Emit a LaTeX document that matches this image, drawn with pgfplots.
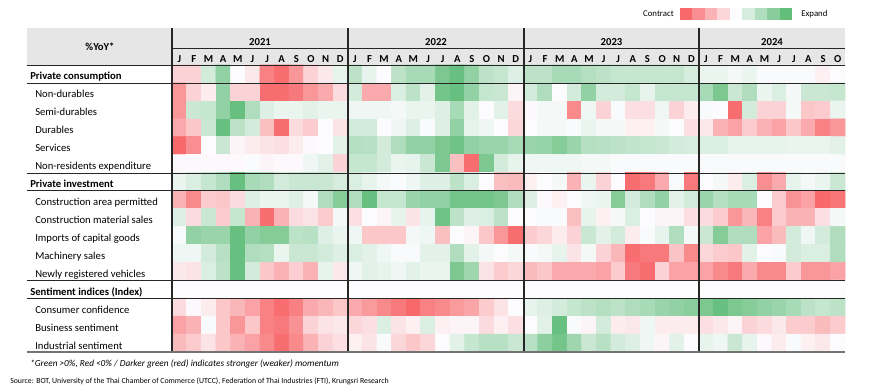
\documentclass[border=0pt]{standalone}
\usepackage{pgfplots}
\pgfplotsset{compat=1.18}
\usepackage{fontspec}
\setmainfont{Carlito}
\definecolor{hdr}{RGB}{231,230,230}
\definecolor{c1}{RGB}{248,105,107}
\definecolor{c2}{RGB}{249,142,144}
\definecolor{c3}{RGB}{250,178,181}
\definecolor{c4}{RGB}{251,215,218}
\definecolor{c5}{RGB}{252,252,255}
\definecolor{c6}{RGB}{214,237,222}
\definecolor{c7}{RGB}{175,221,189}
\definecolor{c8}{RGB}{137,205,156}
\definecolor{c9}{RGB}{99,190,123}
\begin{document}
\begin{tikzpicture}
\path[use as bounding box] (-129pt,-30pt) rectangle (523.5pt,264pt);
\begin{scope}[shift={(-129pt,264pt)},x=0.75pt,y=-0.75pt]
\fill[hdr] (27,28) rectangle (845,65);
\foreach \c [count=\i from 0] in {c1,c2,c3,c4,c5,c6,c7,c8,c9}{
  \fill[\c] ({680+12.44*\i},8) rectangle ({680+12.44*(\i+1)},20);
}
\node[anchor=base east,inner sep=0,font=\fontsize{6.6}{8}\selectfont] at (674,16.5) {Contract};
\node[anchor=base west,inner sep=0,font=\fontsize{6.6}{8}\selectfont] at (801,16.5) {Expand};
\end{scope}
\begin{axis}[at={(0,0)},anchor=south west,scale only axis,width=504.75pt,height=215.25pt,
  xmin=-0.5,xmax=45.5,ymin=-0.5,ymax=15.5,y dir=reverse,hide axis,enlargelimits=false,clip=false,
  colormap={rwg}{rgb255=(248,105,107) rgb255=(252,252,255) rgb255=(99,190,123)},
  point meta min=-3.6,point meta max=3.6]
\addplot[matrix plot*,mesh/cols=46,point meta=explicit] table[header=false,row sep=\\,
  x expr={\coordindex-46*floor((\coordindex+0.5)/46)},y expr={floor((\coordindex+0.5)/46)},meta index=0] {
-1\\ -1\\ 1\\ 2.5\\ 0\\ -0.5\\ -3\\ -3.5\\ -2.5\\ -1\\ -0.5\\ 0.5\\ 1.5\\ 0.5\\ 0\\ 1.5\\ 2\\ 2\\ 3\\ 3.5\\ 2.5\\ 1.5\\ 1.3\\ 0.7\\ 1.5\\ 1.5\\ 2\\ 2\\ 1.7\\ 1.5\\ 1.3\\ 1.3\\ 1.3\\ 1.3\\ 1.3\\ 0.9\\ 0.4\\ 0.4\\ 0.2\\ 0.4\\ 0.1\\ 0.1\\ 0.1\\ 0.1\\ -0.3\\ 0\\
-2.5\\ -1\\ -0.4\\ 2.5\\ -1\\ -1\\ -3.5\\ -3.5\\ -3.2\\ -2.5\\ -2\\ -0.8\\ 1\\ -2\\ -2\\ 0.8\\ 1.5\\ 0.6\\ 3.2\\ 3.5\\ 2.5\\ 1.3\\ 1.2\\ -0.2\\ 1\\ 1.8\\ 0\\ 1\\ 2.5\\ 1\\ 1\\ 1.3\\ 0.5\\ 1.3\\ 1.3\\ 1.3\\ 2\\ 3\\ 1.2\\ 1.8\\ 0.4\\ 0.8\\ 0.2\\ 1.2\\ 1.2\\ 1.3\\
-2.5\\ 1.2\\ 1.3\\ 2.5\\ 3.5\\ 1.8\\ 0.7\\ 0.4\\ 0.4\\ 0.6\\ 0.4\\ 0.4\\ 0.3\\ 0.3\\ 0.3\\ 0.2\\ 0.4\\ 0.4\\ 0.7\\ 2\\ 0.6\\ 0\\ 0.6\\ -0.8\\ -0.1\\ 0.2\\ 0.2\\ -2.8\\ 0.3\\ -1\\ 0.1\\ -0.7\\ -0.7\\ 0.3\\ -1\\ -0.4\\ 0.1\\ 0\\ -3.5\\ 1\\ -1\\ -1\\ 0.2\\ -1.3\\ -1.2\\ 0.4\\
-2\\ -1.3\\ 1.2\\ 3.5\\ 1.5\\ 1\\ -1.5\\ -3.5\\ -0.8\\ -1.2\\ 0\\ -0.6\\ 1\\ 1\\ 0\\ 0.3\\ 0.7\\ 0.1\\ 0.7\\ 2.5\\ 0.5\\ 0.3\\ 0\\ -0.9\\ 0\\ 0.2\\ 0.2\\ 0.1\\ 0.4\\ 0.2\\ 0.2\\ -0.3\\ -0.3\\ 0.2\\ 0\\ -0.7\\ -0.5\\ -1.8\\ -2.2\\ -1.2\\ -1.8\\ -2.2\\ -1.3\\ -2\\ -3\\ -2.5\\
-3.7\\ -2.7\\ 0\\ 1.2\\ -0.2\\ -0.4\\ -0.6\\ -0.7\\ -0.4\\ -0.1\\ 0\\ 0.6\\ 1.7\\ 1.6\\ 1\\ 1.8\\ 2.5\\ 2.5\\ 3\\ 3.3\\ 2.5\\ 2.3\\ 2.3\\ 2\\ 2.3\\ 2.4\\ 2.8\\ 2.3\\ 1.7\\ 1.6\\ 1.5\\ 1.4\\ 1.3\\ 1.2\\ 1\\ 0.9\\ 0.8\\ 0.8\\ 0.5\\ 0.5\\ 0.5\\ 0.5\\ 0.4\\ 0.4\\ 0.4\\ 0.6\\
-0.1\\ -0.1\\ -0.1\\ -0.1\\ -0.1\\ 0.05\\ -0.2\\ -0.1\\ -0.1\\ 0.3\\ 0.6\\ -1\\ 1.3\\ 1.3\\ 1\\ 0.4\\ 0.5\\ 1.2\\ 3\\ -1.5\\ -3.5\\ 3\\ 1\\ 0.5\\ 0.3\\ 0.3\\ 0.3\\ 0.3\\ 0.2\\ 0.2\\ 0.1\\ 0.1\\ 0.1\\ 0.1\\ 0.1\\ 0.1\\ 0.1\\ 0.1\\ 0.1\\ 0.1\\ 0.1\\ 0.1\\ 0.1\\ 0.1\\ 0.1\\ 0.1\\
0.4\\ 0.8\\ 1.3\\ 1.8\\ 3.5\\ 2\\ 1.8\\ 1\\ 1.2\\ 1.2\\ 1.2\\ 0.9\\ 0.8\\ 0.5\\ 0.2\\ 0.05\\ 0.3\\ 0.7\\ 0.7\\ 1.5\\ 0.8\\ 0\\ -1.5\\ -1.6\\ -0.3\\ 0\\ 0.2\\ -1.8\\ 0.4\\ -1\\ 0\\ -3.5\\ -3.2\\ -2\\ 0.1\\ -3.2\\ 0\\ 0.2\\ -0.4\\ 0.8\\ -2.7\\ -2\\ 0.5\\ 0.2\\ 0.4\\ 1.2\\
-1.8\\ -2.8\\ -1.2\\ -1.3\\ -0.8\\ 0.7\\ 0.4\\ 0.4\\ 0.7\\ 0.2\\ 1.8\\ 2.8\\ 1.8\\ 3.5\\ 1.3\\ 1.3\\ 2.3\\ 2.5\\ 2.5\\ 3.2\\ 3.2\\ 3.2\\ 3\\ 1.8\\ 0.7\\ -0.1\\ -0.3\\ 0\\ 0.3\\ 0.4\\ 2.8\\ 1\\ 1.8\\ 2.5\\ 0.6\\ 1\\ 2.3\\ 1.7\\ 2\\ 2\\ 0\\ -1.2\\ -2.6\\ -2.2\\ -3.6\\ -3.3\\
0.7\\ -0.8\\ 1.2\\ -1.2\\ 1.3\\ -1.8\\ -3.5\\ -1.8\\ -0.8\\ -0.6\\ -1.2\\ 0.2\\ -0.7\\ 0\\ -0.2\\ 0.5\\ -0.6\\ 0.5\\ 3.3\\ 1.5\\ 0.7\\ 0.8\\ 1.5\\ 0\\ 0\\ 0.1\\ 0.1\\ -1.5\\ 0.5\\ -0.3\\ 0.2\\ 0.8\\ 0\\ -0.2\\ -0.2\\ -0.7\\ -0.8\\ -1.2\\ -2.5\\ -1.7\\ -3\\ -1.2\\ -1.8\\ -1.8\\ -0.7\\ 0.2\\
0.1\\ 2.5\\ 2.3\\ 2.3\\ 3.5\\ 2.5\\ 2.8\\ 2.8\\ 1.5\\ 1.6\\ 0.7\\ 0.4\\ 0.3\\ -1.3\\ -1.3\\ -1.3\\ 0.2\\ 0.3\\ -1.5\\ 0\\ -0.2\\ -1.3\\ -2.5\\ -3.5\\ -1.2\\ -0.9\\ -0.4\\ -1\\ 1.2\\ 0.6\\ 1\\ -0.4\\ 0.1\\ 0.5\\ 1.8\\ 0.2\\ 1.2\\ 2.8\\ 1.8\\ 1.8\\ -2.2\\ -1.6\\ 1\\ 0.3\\ 1\\ 1.8\\
0.3\\ 0.3\\ 1\\ 1.6\\ 3.5\\ 1.8\\ 1.7\\ 0.4\\ 1.2\\ 1.2\\ 1\\ 0.7\\ 0.8\\ 0.6\\ 0.3\\ 0.1\\ 0.1\\ 0.6\\ 0.6\\ 1.8\\ 0.6\\ 0.2\\ 0\\ 0.2\\ 0.1\\ 0.2\\ 0.5\\ -0.6\\ 0.2\\ -1\\ -1.7\\ -3.5\\ -3.2\\ -3.2\\ -1.4\\ -2.8\\ -0.9\\ -1.2\\ -1.3\\ 0.6\\ 0\\ 0.1\\ 1\\ 0.8\\ 0.8\\ 1.8\\
-0.5\\ -0.6\\ 0.8\\ 1.5\\ 3.5\\ 1\\ -1.3\\ -1.8\\ -1.1\\ -1.8\\ 0.5\\ -0.5\\ 0.3\\ 0.6\\ 0.5\\ 0.3\\ 0.6\\ 0.4\\ 0.4\\ 3\\ 2.2\\ -0.6\\ -1.2\\ -0.9\\ -1.6\\ -1.3\\ -2\\ -2\\ -2\\ -2.2\\ -1.2\\ -3.2\\ -3.5\\ -1\\ -2.2\\ -2.2\\ -2.2\\ -2.8\\ -3.2\\ -2\\ -2.8\\ -2.8\\ -1.2\\ -2.5\\ -2.5\\ -2.2\\
0\\ 0\\ 0\\ 0\\ 0\\ 0\\ 0\\ 0\\ 0\\ 0\\ 0\\ 0\\ 0\\ 0\\ 0\\ 0\\ 0\\ 0\\ 0\\ 0\\ 0\\ 0\\ 0\\ 0\\ 0\\ 0\\ 0\\ 0\\ 0\\ 0\\ 0\\ 0\\ 0\\ 0\\ 0\\ 0\\ 0\\ 0\\ 0\\ 0\\ 0\\ 0\\ 0\\ 0\\ 0\\ 0\\
-0.8\\ -0.1\\ -0.4\\ -1.3\\ -1.7\\ -2.2\\ -3\\ -3.5\\ -3\\ -2\\ -1.7\\ -1.3\\ -2\\ -2.4\\ -2.8\\ -3.2\\ -3.6\\ -3\\ -2.8\\ -2.4\\ -2.1\\ -1.2\\ -0.6\\ 0\\ 0.5\\ 0.7\\ 1\\ 1.3\\ 1.5\\ 1.7\\ 1.5\\ 1.8\\ 2\\ 2.3\\ 2.5\\ 2.7\\ 3\\ 3.5\\ 3\\ 2.8\\ 2.5\\ 2.3\\ 2\\ 1.5\\ 1.3\\ 1.5\\
-2.2\\ -1.8\\ 0.1\\ -1.3\\ -2.5\\ -1.3\\ -3\\ -3.2\\ -2.6\\ -1\\ -0.6\\ -0.5\\ -0.9\\ -0.7\\ 0.8\\ -0.6\\ -0.3\\ 0.8\\ -0.3\\ -0.2\\ -0.2\\ -0.8\\ -0.3\\ -0.7\\ 0\\ 0.6\\ 3.5\\ 0.1\\ -0.2\\ 1\\ -0.4\\ -0.5\\ 0.3\\ -0.4\\ -0.4\\ -0.4\\ -0.7\\ -0.5\\ -0.2\\ -1\\ -0.8\\ -0.5\\ -1.2\\ -1.2\\ -1.6\\ -1.2\\
-1.6\\ -1.2\\ -0.6\\ -1.3\\ -1.8\\ -2.2\\ -2.8\\ -3.5\\ -2.8\\ -1.8\\ -1\\ -0.7\\ -0.3\\ -0.6\\ 0.1\\ -0.9\\ -1.3\\ -0.9\\ 0\\ 0.6\\ 1.3\\ 1.6\\ 1.6\\ 1.2\\ 1.6\\ 2.6\\ 3.2\\ 2.2\\ 1.2\\ 1.6\\ 1\\ 0.7\\ 0.3\\ -0.2\\ 0.6\\ 0\\ 0.5\\ 0.3\\ 1.2\\ 0.5\\ -0.1\\ -0.4\\ 0.1\\ -0.3\\ -0.5\\ 0\\
};
\end{axis}
\begin{scope}[shift={(-129pt,264pt)},x=0.75pt,y=-0.75pt]
\foreach \xx in {172,348,524,699}{\draw[line width=0.9pt,black!85] (\xx,28) -- (\xx,352);}
\draw[line width=0.6pt,black!85] (172,48) -- (845,48);
\foreach \yy in {65,83,173,190,280,298}{\draw[line width=0.7pt,black!85] (27,\yy) -- (845,\yy);}
\draw[line width=1.1pt,black!55] (27,352) -- (845,352);
\begin{scope}[every node/.style={inner sep=0,font=\fontsize{8}{9.6}\selectfont}]
\node[anchor=base,font=\fontsize{8}{9.6}\selectfont\bfseries] at (100,50.5) {\%YoY*};
\node[anchor=base,font=\fontsize{8}{9.6}\selectfont\bfseries] at (260,46) {2021};
\node[anchor=base,font=\fontsize{8}{9.6}\selectfont\bfseries] at (436,46) {2022};
\node[anchor=base,font=\fontsize{8}{9.6}\selectfont\bfseries] at (611.5,46) {2023};
\node[anchor=base,font=\fontsize{8}{9.6}\selectfont\bfseries] at (772,46) {2024};
\foreach \m [count=\i from 0] in {J,F,M,A,M,J,J,A,S,O,N,D,J,F,M,A,M,J,J,A,S,O,N,D,J,F,M,A,M,J,J,A,S,O,N,D,J,F,M,A,M,J,J,A,S,O}{
  \node[anchor=base,font=\fontsize{8}{9.6}\selectfont\bfseries] at ({172+14.63*(\i+0.5)},63) {\m};
}
\foreach \lab/\r/\b in {Private consumption/0/1,Non-durables/1/0,Semi-durables/2/0,Durables/3/0,Services/4/0,Non-residents expenditure/5/0,Private investment/6/1,Construction area permitted/7/0,Construction material sales/8/0,Imports of capital goods/9/0,Machinery sales/10/0,Newly registered vehicles/11/0,Sentiment indices (Index)/12/1,Consumer confidence/13/0,Business sentiment/14/0,Industrial sentiment/15/0}{
  \ifnum\b=1
    \node[anchor=base west,font=\fontsize{8}{9.6}\selectfont\bfseries] at (30,{65+17.94*(\r+1)-3}) {\lab};
  \else
    \node[anchor=base west] at (35,{65+17.94*(\r+1)-3}) {\lab};
  \fi
}
\node[anchor=base west,font=\fontsize{6.95}{8}\selectfont\itshape] at (30,367) {*Green >0\%, Red <0\% / Darker green (red) indicates stronger (weaker) momentum};
\node[anchor=base west,font=\fontsize{5.85}{7}\selectfont] at (10,384) {Source: BOT, University of the Thai Chamber of Commerce (UTCC), Federation of Thai Industries (FTI), Krungsri Research};
\end{scope}
\end{scope}
\end{tikzpicture}
\end{document}
